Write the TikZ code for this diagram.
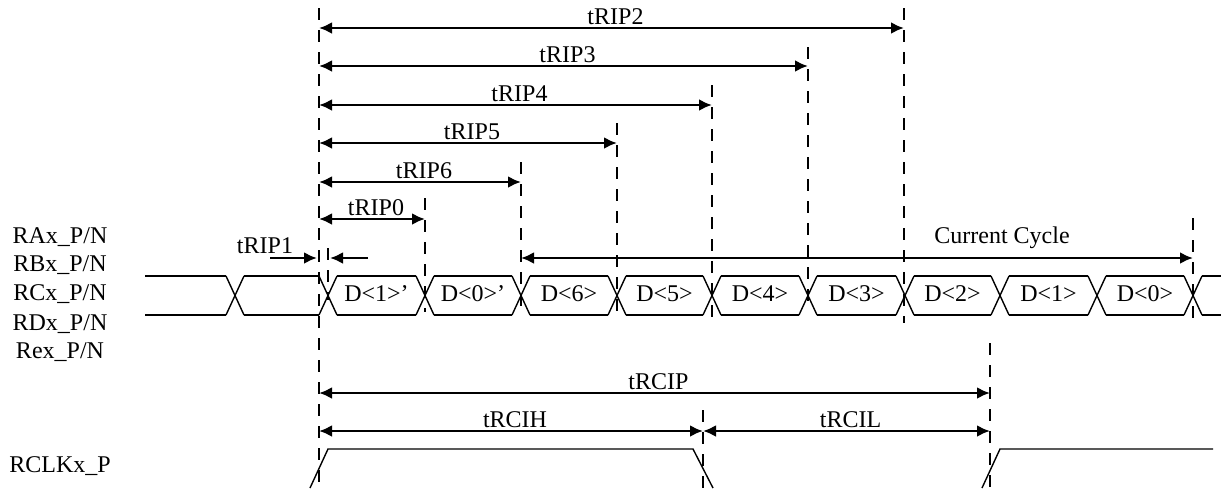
\documentclass[tikz,border=0pt]{standalone}
\usepackage{fontspec}
\setmainfont{Liberation Serif}
\usetikzlibrary{arrows.meta}
\begin{document}
\begin{tikzpicture}[x=0.5pt,y=-0.5pt,
	font=\fontsize{12}{14}\selectfont,
	guide/.style={dash pattern=on 6pt off 5pt,line width=0.8pt},
	sig/.style={line width=0.7pt},
	dim/.style={{Latex[length=6.5pt,width=6pt]}-{Latex[length=6.5pt,width=6pt]},line width=1.4pt},
	half/.style={-{Latex[length=6.5pt,width=6pt]},line width=1.4pt},
	lbl/.style={anchor=base,yshift=2pt,xshift=2pt,inner sep=0pt}]
	\useasboundingbox (0,0) rectangle (1221,488);

	\foreach \y/\t in {243/RAx,271/RBx,300/RCx,330/RDx,358/Rex}{
	\node[anchor=base] (sig\t) at (60,\y) {\t\_P/N};
	}
	\node[anchor=base] (sigRCLK) at (60,472) {RCLKx\_P};

	\foreach \x/\ya/\yb in {319/8/488,904/8/323,808/47/307,712/85/317,617/123/320,521/162/307,425/198/312,328/248/300,1193/218/323,703/410/488,990/343/488}{
	\draw[guide] (\x,\ya) -- (\x,\yb);
	}

	\foreach \e/\y/\n in {904/28/2,808/66/3,712/105/4,617/143/5,521/182/6,425/219/0}{
	\coordinate (s\n) at (319,\y);
	\coordinate (e\n) at (\e,\y);
	\draw[dim] (s\n) -- node[lbl] (t\n) {tRIP\n} (e\n);
	}

	\coordinate (p1a) at (270,258);
	\coordinate (p1b) at (317,258);
	\coordinate (p1c) at (368,258);
	\coordinate (p1d) at (330,258);
	\draw[half] (p1a) -- (p1b);
	\draw[half] (p1c) -- (p1d);
	\node[anchor=base] (t1) at (265,253) {tRIP1};

	\coordinate (cc0) at (521,258);
	\coordinate (cc1) at (1193,258);
	\draw[dim] (cc0) -- (cc1);
	\node[anchor=base] (cur) at (1002,243) {Current Cycle};

	\draw[sig] (145,276) -- (226,276) (145,315) -- (226,315);
	\draw[sig] (1202,276) -- (1221,276) (1202,315) -- (1221,315);
	\foreach \a/\b in {235/328,328/425,425/521,521/617,617/712,712/808,808/905,905/1000,1000/1097,1097/1193}{
	\draw[sig] (\a+9,276) -- (\b-9,276) (\a+9,315) -- (\b-9,315);
	}
	\foreach \c in {235,328,425,521,617,712,808,905,1000,1097,1193}{
	\draw[sig] (\c-9,276) -- (\c+9,315) (\c-9,315) -- (\c+9,276);
	}
	\foreach \a/\b/\t [count=\i] in {328/425/D<1>',425/521/D<0>',521/617/D<6>,617/712/D<5>,712/808/D<4>,808/905/D<3>,905/1000/D<2>,1000/1097/D<1>,1097/1193/D<0>}{
	\node[anchor=base] (d\i) at ({(\a+\b)/2},301) {\t};
	}

	\coordinate (c0) at (319,393);
	\coordinate (c1) at (990,393);
	\coordinate (h0) at (319,431);
	\coordinate (h1) at (703,431);
	\coordinate (l1) at (990,431);
	\draw[dim] (c0) -- node[lbl] (tp) {tRCIP} (c1);
	\draw[dim] (h0) -- node[lbl] (th) {tRCIH} (h1);
	\draw[dim] (h1) -- node[lbl] (tl) {tRCIL} (l1);

	\draw[sig] (310,488) -- (328,449) -- (693,449) -- (713,488);
	\draw[sig] (982,488) -- (1000,449) -- (1213,449);
\end{tikzpicture}
\end{document}
